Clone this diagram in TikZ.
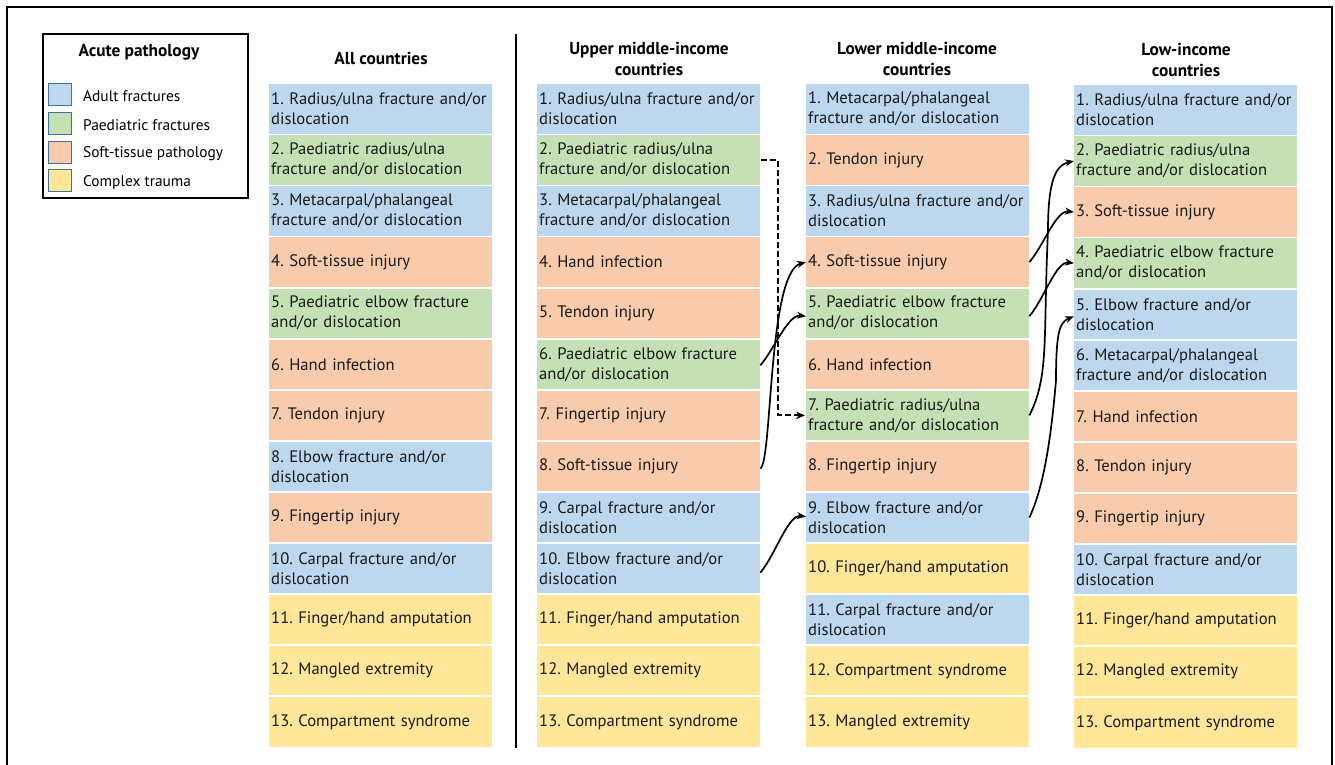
\documentclass[tikz,border=0pt]{standalone}
\usepackage{fontspec}
\setmainfont{PT Sans}
\usetikzlibrary{arrows.meta}

\definecolor{adultblue}{RGB}{189,215,238}
\definecolor{paedgreen}{RGB}{197,224,180}
\definecolor{softsalmon}{RGB}{248,203,173}
\definecolor{complexyellow}{RGB}{255,230,153}
\definecolor{swatchedge}{RGB}{65,113,156}

\tikzset{
  cellbox/.style={anchor=north west, minimum width=223pt, minimum height=49.4pt,
    text width=219pt, inner xsep=2pt, inner ysep=0pt, align=left,
    font=\fontsize{16.6}{20}\selectfont, text=black!90},
  headtext/.style={align=center, font=\bfseries\fontsize{17.3}{20.5}\selectfont},
  swatch/.style={draw=swatchedge, line width=1pt, minimum width=23pt, minimum height=22pt,
    inner sep=0pt},
  legtext/.style={anchor=west, font=\fontsize{15.4}{17}\selectfont, inner sep=0pt},
  shiftarrow/.style={line width=1.7pt, -{Stealth[length=9pt,width=7pt]}},
  dashedarrow/.style={line width=2pt, dash pattern=on 6pt off 3pt,
    -{Stealth[length=9pt,width=7.5pt]}}
}

% one ranked cell: name, left x, row number, fill colour, text
\newcommand\rankcell[5]{%
  \node[cellbox, fill=#4] (#1) at (#2, {84+(#3-1)*51.08}) {#5};}

\begin{document}
\frenchspacing
\begin{tikzpicture}[x=1pt, y=-1pt]
\useasboundingbox (0,0) rectangle (1335,764);
\fill[white] (0,0) rectangle (1335,764);

% outer frame
\draw[line width=2pt] (7,800) -- (7,7) -- (1332,7) -- (1332,800);

% legend
\draw[line width=1.2pt] (43,34) rectangle (248,198);
\node[headtext] (legtitle) at (139,52) {Acute pathology};
\node[swatch, fill=adultblue]     (sw1) at (60,94.5)  {};
\node[swatch, fill=paedgreen]     (sw2) at (60,123)   {};
\node[swatch, fill=softsalmon]    (sw3) at (60,152)   {};
\node[swatch, fill=complexyellow] (sw4) at (60,180.5) {};
\node[legtext] (lg1) at (83,96.5)  {Adult fractures};
\node[legtext] (lg2) at (83,125)   {Paediatric fractures};
\node[legtext] (lg3) at (83,154)   {Soft-tissue pathology};
\node[legtext] (lg4) at (83,182.5) {Complex trauma};

% divider between the overall ranking and the income groups
\draw[line width=1.5pt] (516,34) -- (516,748);

% column headings
\node[headtext] (hA) at (381,58) {All countries};
\node[headtext] (hU) at (649,59) {Upper middle-income\\countries};
\node[headtext] (hL) at (917,59) {Lower middle-income\\countries};
\node[headtext] (hW) at (1186,60) {Low-income\\countries};

% all countries
\rankcell{A1}{269}{1}{adultblue}{1. Radius/ulna fracture and/or\\dislocation}
\rankcell{A2}{269}{2}{paedgreen}{2. Paediatric radius/ulna\\fracture and/or dislocation}
\rankcell{A3}{269}{3}{adultblue}{3. Metacarpal/phalangeal\\fracture and/or dislocation}
\rankcell{A4}{269}{4}{softsalmon}{4. Soft-tissue injury}
\rankcell{A5}{269}{5}{paedgreen}{5. Paediatric elbow fracture\\and/or dislocation}
\rankcell{A6}{269}{6}{softsalmon}{6. Hand infection}
\rankcell{A7}{269}{7}{softsalmon}{7. Tendon injury}
\rankcell{A8}{269}{8}{adultblue}{8. Elbow fracture and/or\\dislocation}
\rankcell{A9}{269}{9}{softsalmon}{9. Fingertip injury}
\rankcell{A10}{269}{10}{adultblue}{10. Carpal fracture and/or\\dislocation}
\rankcell{A11}{269}{11}{complexyellow}{11. Finger/hand amputation}
\rankcell{A12}{269}{12}{complexyellow}{12. Mangled extremity}
\rankcell{A13}{269}{13}{complexyellow}{13. Compartment syndrome}

% upper middle-income countries
\rankcell{U1}{537}{1}{adultblue}{1. Radius/ulna fracture and/or\\dislocation}
\rankcell{U2}{537}{2}{paedgreen}{2. Paediatric radius/ulna\\fracture and/or dislocation}
\rankcell{U3}{537}{3}{adultblue}{3. Metacarpal/phalangeal\\fracture and/or dislocation}
\rankcell{U4}{537}{4}{softsalmon}{4. Hand infection}
\rankcell{U5}{537}{5}{softsalmon}{5. Tendon injury}
\rankcell{U6}{537}{6}{paedgreen}{6. Paediatric elbow fracture\\and/or dislocation}
\rankcell{U7}{537}{7}{softsalmon}{7. Fingertip injury}
\rankcell{U8}{537}{8}{softsalmon}{8. Soft-tissue injury}
\rankcell{U9}{537}{9}{adultblue}{9. Carpal fracture and/or\\dislocation}
\rankcell{U10}{537}{10}{adultblue}{10. Elbow fracture and/or\\dislocation}
\rankcell{U11}{537}{11}{complexyellow}{11. Finger/hand amputation}
\rankcell{U12}{537}{12}{complexyellow}{12. Mangled extremity}
\rankcell{U13}{537}{13}{complexyellow}{13. Compartment syndrome}

% lower middle-income countries
\rankcell{L1}{806}{1}{adultblue}{1. Metacarpal/phalangeal\\fracture and/or dislocation}
\rankcell{L2}{806}{2}{softsalmon}{2. Tendon injury}
\rankcell{L3}{806}{3}{adultblue}{3. Radius/ulna fracture and/or\\dislocation}
\rankcell{L4}{806}{4}{softsalmon}{4. Soft-tissue injury}
\rankcell{L5}{806}{5}{paedgreen}{5. Paediatric elbow fracture\\and/or dislocation}
\rankcell{L6}{806}{6}{softsalmon}{6. Hand infection}
\rankcell{L7}{806}{7}{paedgreen}{7. Paediatric radius/ulna\\fracture and/or dislocation}
\rankcell{L8}{806}{8}{softsalmon}{8. Fingertip injury}
\rankcell{L9}{806}{9}{adultblue}{9. Elbow fracture and/or\\dislocation}
\rankcell{L10}{806}{10}{complexyellow}{10. Finger/hand amputation}
\rankcell{L11}{806}{11}{adultblue}{11. Carpal fracture and/or\\dislocation}
\rankcell{L12}{806}{12}{complexyellow}{12. Compartment syndrome}
\rankcell{L13}{806}{13}{complexyellow}{13. Mangled extremity}

% low-income countries
\begin{scope}[yshift=-1pt]
\rankcell{W1}{1074}{1}{adultblue}{1. Radius/ulna fracture and/or\\dislocation}
\rankcell{W2}{1074}{2}{paedgreen}{2. Paediatric radius/ulna\\fracture and/or dislocation}
\rankcell{W3}{1074}{3}{softsalmon}{3. Soft-tissue injury}
\rankcell{W4}{1074}{4}{paedgreen}{4. Paediatric elbow fracture\\and/or dislocation}
\rankcell{W5}{1074}{5}{adultblue}{5. Elbow fracture and/or\\dislocation}
\rankcell{W6}{1074}{6}{adultblue}{6. Metacarpal/phalangeal\\fracture and/or dislocation}
\rankcell{W7}{1074}{7}{softsalmon}{7. Hand infection}
\rankcell{W8}{1074}{8}{softsalmon}{8. Tendon injury}
\rankcell{W9}{1074}{9}{softsalmon}{9. Fingertip injury}
\rankcell{W10}{1074}{10}{adultblue}{10. Carpal fracture and/or\\dislocation}
\rankcell{W11}{1074}{11}{complexyellow}{11. Finger/hand amputation}
\rankcell{W12}{1074}{12}{complexyellow}{12. Mangled extremity}
\rankcell{W13}{1074}{13}{complexyellow}{13. Compartment syndrome}
\end{scope}

% rank shifts: upper middle -> lower middle
\draw[dashedarrow] ([xshift=1pt]U2.east) -- ++(17,0) |- ([xshift=-1pt]L7.west);
\draw[shiftarrow] ([yshift=-2pt]U8.east) .. controls +(12,-8) and +(-38,10) .. (L4.west);
\draw[shiftarrow] ([yshift=-1pt]U6.east) .. controls +(15,-18) and +(-18,-2) .. ([yshift=-3pt]L5.west);
\draw[shiftarrow] ([yshift=-4pt]U10.east) .. controls +(15,-18) and +(-18,-2) .. ([yshift=1pt]L9.west);

% rank shifts: lower middle -> low income
\draw[shiftarrow] (L4.east) .. controls +(15,-18) and +(-18,-2) .. (W3.west);
\draw[shiftarrow] ([yshift=-3pt]L5.east) .. controls +(15,-18) and +(-18,-2) .. (W4.west);
\draw[shiftarrow] (L7.east) .. controls +(20,-40) and +(-5,110) .. (1048,230) .. controls +(0,-50) and +(-18,4) .. (W2.west);
\draw[shiftarrow] (L9.east) .. controls +(14,-30) and +(-5,60) .. (1056,380) .. controls +(0,-50) and +(-14,6) .. ([yshift=-2pt]W5.west);

\end{tikzpicture}
\end{document}
